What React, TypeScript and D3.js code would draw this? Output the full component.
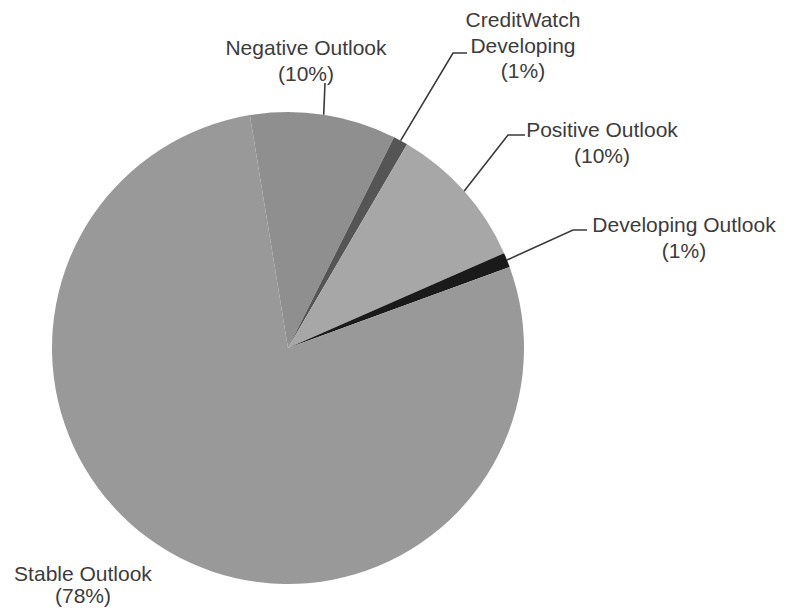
import React from "react";
import * as d3 from "d3";

const categories = ["Negative Outlook", "CreditWatch Developing", "Positive Outlook", "Developing Outlook", "Stable Outlook"];
const values = [10, 1, 10, 1, 78];
const percentLabels = ["(10%)", "(1%)", "(10%)", "(1%)", "(78%)"];
const labelLines = [["Negative Outlook"], ["CreditWatch", "Developing"], ["Positive Outlook"], ["Developing Outlook"], ["Stable Outlook"]];

const colors = ["#8f8f8f", "#555555", "#a7a7a7", "#1a1a1a", "#999999"];

// layout (positions of label blocks: center x, first baseline y; leader bend points)
const labelPos = [
  { x: 306, y: 55, bend: [325, 83], end: [325, 83] },
  { x: 523, y: 27, bend: [453, 53], end: [467, 53] },
  { x: 602, y: 137, bend: [508, 135], end: [525, 135] },
  { x: 684, y: 232, bend: [573, 230], end: [587, 230] },
  { x: 83, y: 581, bend: null, end: null },
];

const W = 786, H = 614;
const cx = 288, cy = 348, R = 236;

export default function App() {
  const start = (-9.3 * Math.PI) / 180;
  const pie = d3.pie<number>().sort(null).startAngle(start).endAngle(start + 2 * Math.PI);
  const arcs = pie(values);
  const arc = d3.arc<d3.PieArcDatum<number>>().innerRadius(0).outerRadius(R);
  const font = "'Liberation Sans', Arial, sans-serif";
  return (
    <svg width={W} height={H} style={{ position: "absolute", left: 0, top: 0, background: "#fff" }}>
      <g transform={`translate(${cx},${cy})`}>
        {arcs.map((a, i) => (
          <path key={i} d={arc(a) || ""} fill={colors[i]} />
        ))}
      </g>
      {arcs.map((a, i) => {
        const lp = labelPos[i];
        if (!lp.bend) return null;
        const mid = (a.startAngle + a.endAngle) / 2;
        const x0 = cx + R * Math.sin(mid);
        const y0 = cy - R * Math.cos(mid);
        const pts = [[x0, y0], lp.bend, lp.end];
        const line = d3.line()(pts as [number, number][]);
        return <path key={"l" + i} d={line || ""} fill="none" stroke="#3a3a3a" strokeWidth={1.6} />;
      })}
      {categories.map((c, i) => {
        const lp = labelPos[i];
        const lines = [...labelLines[i], percentLabels[i]];
        return (
          <text key={"t" + i} x={lp.x} y={lp.y} textAnchor="middle" fontFamily={font} fontSize={21} fill="#3c3c3c">
            {lines.map((s, j) => (
              <tspan key={j} x={lp.x} dy={j === 0 ? 0 : i === 4 ? 22 : 25.5}>{s}</tspan>
            ))}
          </text>
        );
      })}
    </svg>
  );
}
